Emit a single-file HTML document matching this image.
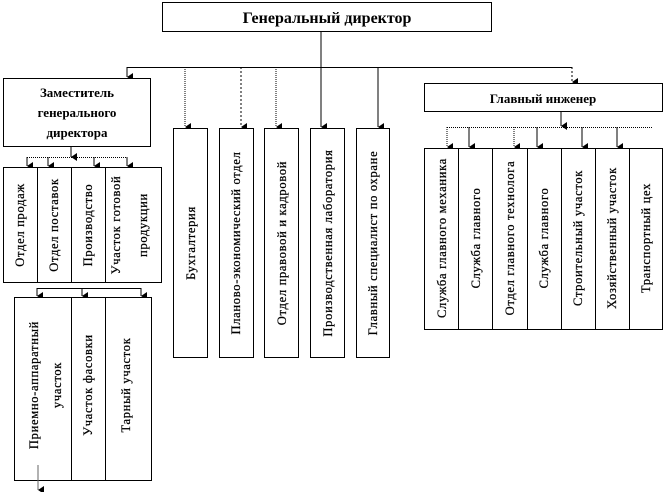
<!DOCTYPE html>
<html><head><meta charset="utf-8"><style>
html,body{margin:0;padding:0;background:#fff;width:666px;height:492px;overflow:hidden}
svg{display:block}
text{font-family:"Liberation Serif","DejaVu Serif",serif;fill:#000}
.b{fill:#fff;stroke:#000;stroke-width:1}
.v{font-size:12.5px;letter-spacing:0.7px;stroke:#000;stroke-width:0.25}
</style></head><body>
<svg width="666" height="492" viewBox="0 0 666 492" xmlns="http://www.w3.org/2000/svg">
<defs><marker id="a" markerWidth="8" markerHeight="8" refX="4" refY="7" orient="auto" markerUnits="userSpaceOnUse"><path d="M0,1 L8,1 L4,7 Z" fill="#000"/></marker></defs>
<g stroke="#000" stroke-width="1" fill="none">
<rect class="b" x="162.5" y="2.5" width="329" height="29"/>
<line x1="321" y1="32" x2="321" y2="67"/>
<line x1="127" y1="67.5" x2="572" y2="67.5"/>
<line x1="127" y1="67" x2="127" y2="77" marker-end="url(#a)"/>
<line x1="185" y1="67" x2="185" y2="127" stroke-dasharray="1,1" marker-end="url(#a)"/>
<line x1="241" y1="67" x2="241" y2="127" stroke-dasharray="2,2" marker-end="url(#a)"/>
<line x1="276" y1="67" x2="276" y2="127" stroke-dasharray="1,1" marker-end="url(#a)"/>
<line x1="321" y1="67" x2="321" y2="127" marker-end="url(#a)"/>
<line x1="378" y1="67" x2="378" y2="127" marker-end="url(#a)"/>
<line x1="572" y1="67" x2="572" y2="82" stroke-dasharray="2,2" marker-end="url(#a)"/>
<rect class="b" x="3.5" y="78.5" width="147" height="68"/>
<line x1="71" y1="147" x2="71" y2="157" marker-end="url(#a)"/>
<line x1="27" y1="157.5" x2="127" y2="157.5" stroke-dasharray="1,1"/>
<line x1="27" y1="157" x2="27" y2="166" marker-end="url(#a)"/>
<line x1="48" y1="157" x2="48" y2="166" marker-end="url(#a)"/>
<line x1="94" y1="157" x2="94" y2="166" marker-end="url(#a)"/>
<line x1="127" y1="157" x2="127" y2="166" marker-end="url(#a)"/>
<rect class="b" x="3.5" y="167.5" width="158" height="115"/>
<line x1="37.5" y1="168" x2="37.5" y2="282"/>
<line x1="71.5" y1="168" x2="71.5" y2="282"/>
<line x1="105.5" y1="168" x2="105.5" y2="282"/>
<line x1="37" y1="288.5" x2="141" y2="288.5"/>
<line x1="37" y1="288" x2="37" y2="296" marker-end="url(#a)"/>
<line x1="82" y1="288" x2="82" y2="296" marker-end="url(#a)"/>
<line x1="141" y1="288" x2="141" y2="296" marker-end="url(#a)"/>
<rect class="b" x="14.5" y="297.5" width="137" height="183"/>
<line x1="71.5" y1="298" x2="71.5" y2="480"/>
<line x1="105.5" y1="298" x2="105.5" y2="480"/>
<line x1="38" y1="465" x2="38" y2="490" stroke="#666" marker-end="url(#a)"/>
<rect class="b" x="173.5" y="128.5" width="34" height="229"/>
<rect class="b" x="219.5" y="128.5" width="34" height="229"/>
<rect class="b" x="264.5" y="128.5" width="34" height="229"/>
<rect class="b" x="310.5" y="128.5" width="34" height="229"/>
<rect class="b" x="356.5" y="128.5" width="33" height="229"/>
<rect class="b" x="424.5" y="83.5" width="238" height="28"/>
<line x1="561" y1="112" x2="561" y2="126" marker-end="url(#a)"/>
<line x1="447" y1="127.5" x2="652" y2="127.5" stroke-dasharray="1,1"/>
<line x1="447" y1="127" x2="447" y2="147" stroke-dasharray="1,1" marker-end="url(#a)"/>
<line x1="469" y1="127" x2="469" y2="147" marker-end="url(#a)"/>
<line x1="514" y1="127" x2="514" y2="147" stroke-dasharray="1,1" marker-end="url(#a)"/>
<line x1="537" y1="127" x2="537" y2="147" marker-end="url(#a)"/>
<line x1="582" y1="127" x2="582" y2="147" marker-end="url(#a)"/>
<line x1="617" y1="127" x2="617" y2="147" marker-end="url(#a)"/>
<rect class="b" x="424.5" y="148.5" width="238" height="181"/>
<line x1="458.5" y1="149" x2="458.5" y2="330"/>
<line x1="492.5" y1="149" x2="492.5" y2="330"/>
<line x1="527.5" y1="149" x2="527.5" y2="330"/>
<line x1="561.5" y1="149" x2="561.5" y2="330"/>
<line x1="595.5" y1="149" x2="595.5" y2="330"/>
<line x1="629.5" y1="149" x2="629.5" y2="330"/>
</g>
<text x="327" y="23" text-anchor="middle" font-size="16" font-weight="bold">Генеральный директор</text>
<g font-size="13" font-weight="bold" text-anchor="middle">
<text x="77" y="97">Заместитель</text>
<text x="77" y="117">генерального</text>
<text x="77" y="137">директора</text>
</g>
<text x="543" y="103" text-anchor="middle" font-size="13" font-weight="bold">Главный инженер</text>
<g class="v" text-anchor="middle">
<text transform="translate(24,225) rotate(-90)">Отдел продаж</text>
<text transform="translate(58,225) rotate(-90)">Отдел поставок</text>
<text transform="translate(92,225) rotate(-90)">Производство</text>
<text transform="translate(120,225) rotate(-90)">Участок готовой</text>
<text transform="translate(147,225) rotate(-90)">продукции</text>
<text transform="translate(38,385) rotate(-90)">Приемно-аппаратный</text>
<text transform="translate(61,385) rotate(-90)">участок</text>
<text transform="translate(92,385) rotate(-90)">Участок фасовки</text>
<text transform="translate(130,385) rotate(-90)">Тарный участок</text>
<text transform="translate(195,243) rotate(-90)">Бухгалтерия</text>
<text transform="translate(240,243) rotate(-90)">Планово-экономический отдел</text>
<text transform="translate(286,243) rotate(-90)">Отдел правовой и кадровой</text>
<text transform="translate(332,243) rotate(-90)">Производственная лаборатория</text>
<text transform="translate(377,243) rotate(-90)">Главный специалист по охране</text>
<text transform="translate(446,238) rotate(-90)">Служба главного механика</text>
<text transform="translate(480,238) rotate(-90)">Служба главного</text>
<text transform="translate(514,238) rotate(-90)">Отдел главного технолога</text>
<text transform="translate(548,238) rotate(-90)">Служба главного</text>
<text transform="translate(582,238) rotate(-90)">Строительный участок</text>
<text transform="translate(616,238) rotate(-90)">Хозяйственный участок</text>
<text transform="translate(650,238) rotate(-90)">Транспортный цех</text>
</g>
</svg>
</body></html>
